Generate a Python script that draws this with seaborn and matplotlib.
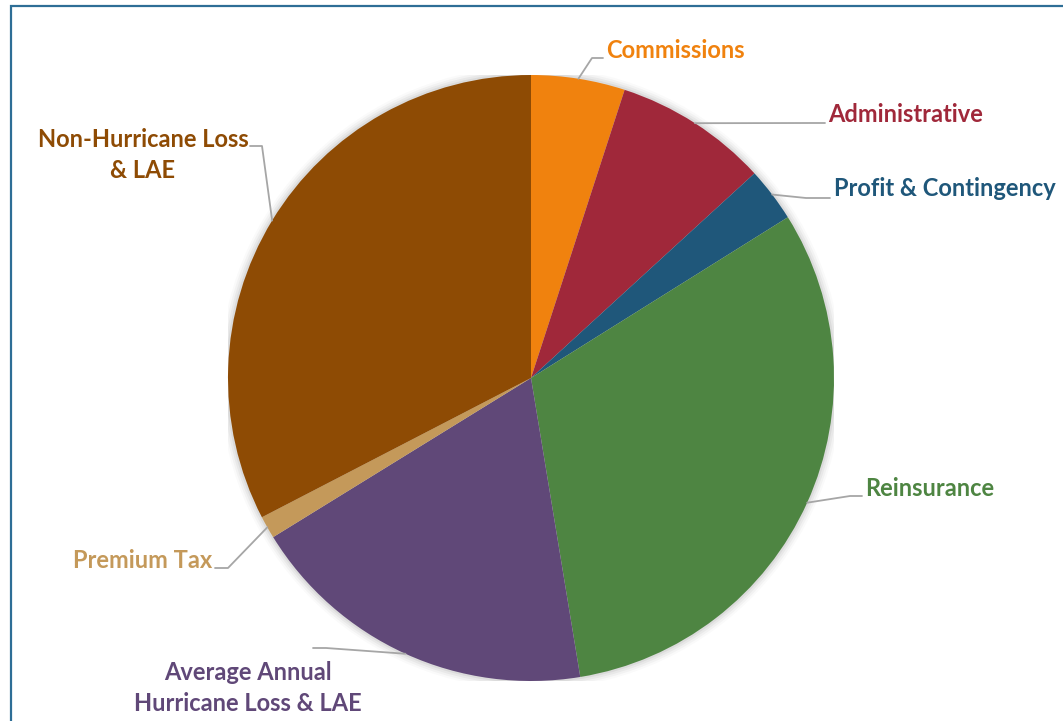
import numpy as np
import matplotlib
matplotlib.use("Agg")
import matplotlib.pyplot as plt
from matplotlib.patches import Rectangle, Circle
import seaborn as sns

# Data (clockwise from 12 o'clock), percent of premium
categories = ["Commissions", "Administrative", "Profit & Contingency", "Reinsurance",
              "Average Annual\nHurricane Loss & LAE", "Premium Tax",
              "Non-Hurricane Loss\n& LAE"]
shares = [5.0, 8.2, 2.9, 31.3, 18.8, 1.2, 32.6]
colors = ["#F0820E", "#A0283A", "#1F577A", "#4E8542", "#604878", "#C4995A", "#8E4B04"]

# Style
sns.set_style("white")
plt.rcParams["font.family"] = ["Lato", "DejaVu Sans"]

W, H = 1063, 721
CX, CY, R = 531, 378, 303

fig = plt.figure(figsize=(W / 100, H / 100), dpi=100)
ax = fig.add_axes([(CX - R) / W, (H - CY - R) / H, 2 * R / W, 2 * R / H])


def px(x, y):
    # pixel position -> data coords (radius 1)
    return (x - CX) / R, (CY - y) / R


# soft shadow around the pie
for i, a in enumerate([0.05, 0.04, 0.03, 0.02]):
    ax.add_patch(Circle((0, 0), 1.0 + 0.007 * (i + 1), color="black", alpha=a, lw=0, zorder=0))

wedges, _ = ax.pie(
    shares,
    colors=colors,
    startangle=90,
    counterclock=False,
    radius=1,
    wedgeprops=dict(linewidth=0),
)

# label layout: text anchor (px), ha, line end (px), elbow (px)
label_pos = [
    ((606, 50), "left", (603, 58), (592, 58)),
    ((828, 115), "left", (825, 123), (812, 123)),
    ((834, 189), "left", (830, 198), (806, 198)),
    ((865, 488), "left", (862, 496), (850, 496)),
    ((248, 688), "center", (313, 648), (326, 648)),
    ((212, 561), "right", (215, 568), (228, 568)),
    ((143, 155), "center", (250, 146), (262, 146)),
]

for w, name, col, (tpos, ha, end, elbow) in zip(wedges, categories, colors, label_pos):
    mid = np.deg2rad((w.theta1 + w.theta2) / 2)
    x0, y0 = np.cos(mid), np.sin(mid)
    ex, ey = px(*elbow)
    tx, ty = px(*end)
    ax.plot([x0, ex, tx], [y0, ey, ty], color="#A6A6A6", lw=1.3, clip_on=False, zorder=1)
    lx, ly = px(*tpos)
    ax.text(lx, ly, name, color=col, ha=ha, va="center", fontsize=17,
            fontweight="bold", linespacing=1.45, multialignment="center")

ax.set_xlim(-1, 1)
ax.set_ylim(-1, 1)
ax.axis("off")

# chart border (only top/left visible in crop)
fig.patches.append(Rectangle((11 / W, -0.1), 1.2, (H - 6) / H + 0.1, transform=fig.transFigure,
                             fill=False, edgecolor="#2E6E96", lw=1.6))

fig.savefig("out.png", dpi=100)
